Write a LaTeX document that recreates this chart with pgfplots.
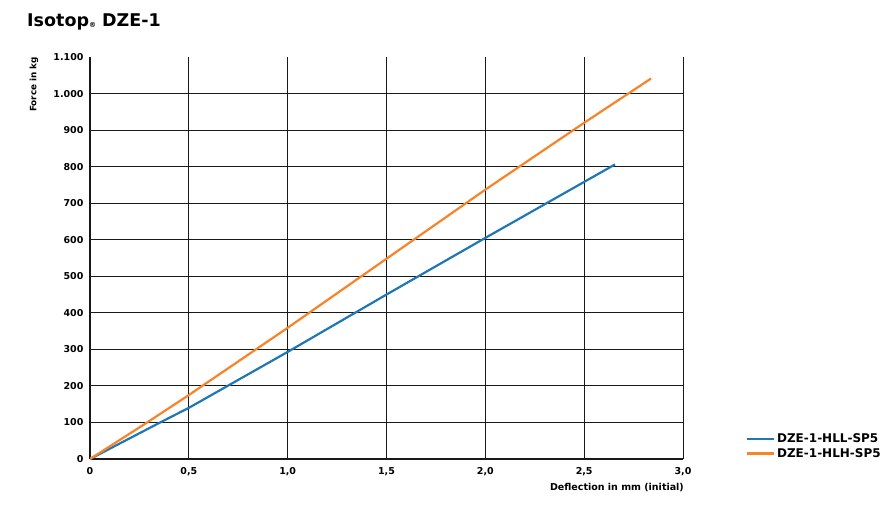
\documentclass[border=0pt]{standalone}
\usepackage{pgfplots}
\pgfplotsset{compat=1.18}
\usepackage{fontspec}
\setmainfont{DejaVu Sans}
\definecolor{cblue}{RGB}{31,119,180}
\definecolor{corange}{RGB}{247,131,42}
\begin{document}
\begin{tikzpicture}[x=1pt,y=1pt]
\useasboundingbox (0,0) rectangle (896,515);
\node[anchor=base west, inner sep=0pt, font=\bfseries\fontsize{17.5}{20}\selectfont] at (27,488)
  {Isotop{\fontsize{7}{8}\selectfont\raisebox{-1pt}{®}} DZE-1};
\node[rotate=90, anchor=east, inner sep=0pt, font=\bfseries\fontsize{8.8}{10}\selectfont] at (34,458) {Force in kg};
\node[anchor=east, inner sep=0pt, font=\bfseries\fontsize{9.5}{11}\selectfont] at (684,27) {Deflection in mm (initial)};
\begin{axis}[
  at={(90pt,56pt)}, anchor=south west,
  scale only axis, width=593pt, height=402pt,
  xmin=0, xmax=3, ymin=0, ymax=1100,
  axis x line*=bottom, axis y line*=left,
  axis line style={line width=2.4pt, black!90},
  xtick={0,0.5,1,1.5,2,2.5,3},
  xticklabels={0,{0,5},{1,0},{1,5},{2,0},{2,5},{3,0}},
  ytick={0,100,200,300,400,500,600,700,800,900,1000},
  yticklabels={0,100,200,300,400,500,600,700,800,900,1.000},
  extra y ticks={1100}, extra y tick labels={1.100},
  extra tick style={grid=none},
  grid=major, major grid style={black!90, line width=1pt},
  major tick length=0pt,
  tick label style={font=\bfseries\fontsize{9.5}{11}\selectfont},
  xticklabel style={yshift=-5pt},
  yticklabel style={xshift=-3pt},
  legend style={at={(rel axis cs:1.105,0.032)}, anchor=west, draw=none, fill=none,
    font=\bfseries\fontsize{12}{13.5}\selectfont, row sep=0pt, inner sep=0pt},
  legend cell align=left,
  legend image code/.code={\draw[#1, line width=2.6pt](0pt,0pt)--(27pt,0pt);},
]
\addplot[cblue, line width=2.2pt] coordinates {
  (0,0)(0.355,100)(0.5,140)(1.0,293)(1.5,450)(2.0,605)(2.656,806)
};
\addplot[corange, line width=2.2pt] coordinates {
  (0,0)(0.289,100)(0.5,175)(1.0,359)(1.5,548)(2.0,737)(2.5,920)(2.838,1041)
};
\legend{DZE-1-HLL-SP5, DZE-1-HLH-SP5}
\end{axis}
\end{tikzpicture}
\end{document}
